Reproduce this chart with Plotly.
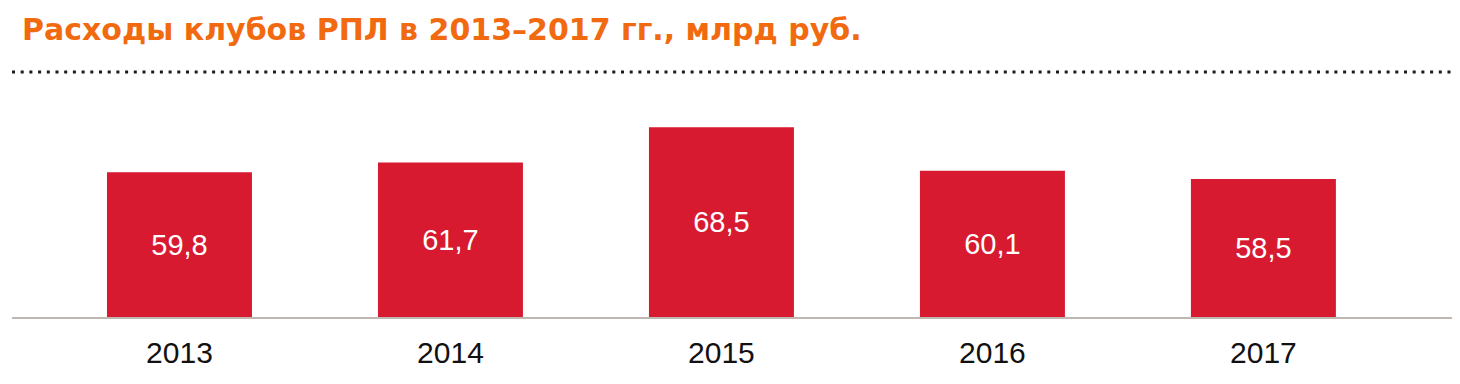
import plotly.graph_objects as go

years = ["2013", "2014", "2015", "2016", "2017"]
expenses = [59.8, 61.7, 68.5, 60.1, 58.5]
labels = ["59,8", "61,7", "68,5", "60,1", "58,5"]
title = "Расходы клубов РПЛ в 2013–2017 гг., млрд руб."

BASE = 31.8
BAR_COLOR = "#D71A30"
TITLE_COLOR = "#F26A10"

W, H = 1452, 376          # page body has an 8px margin
L, R, T, B = 4, 5, 92, 67
PLOT_H = H - T - B

fig = go.Figure()
fig.add_trace(go.Bar(
    x=list(range(len(years))),
    y=[v - BASE for v in expenses],
    base=BASE,
    text=labels,
    textposition="inside",
    insidetextanchor="middle",
    textangle=0,
    textfont=dict(family="Liberation Sans, Arial, sans-serif", size=29, color="white"),
    marker=dict(color=BAR_COLOR, line=dict(width=0)),
    width=0.535,
    hoverinfo="skip",
))

fig.update_layout(
    width=W, height=H,
    margin=dict(l=L, r=R, t=T, b=B),
    paper_bgcolor="white", plot_bgcolor="white",
    showlegend=False,
    uniformtext=dict(minsize=10, mode="show"),
    title=dict(
        text="<b>" + title + "</b>",
        xref="container", yref="container",
        x=14 / W, y=1 - 21 / H, xanchor="left", yanchor="middle",
        font=dict(family="DejaVu Sans, sans-serif", size=30, color=TITLE_COLOR),
    ),
    xaxis=dict(
        range=[-0.618, 4.707],
        tickmode="array", tickvals=list(range(len(years))), ticktext=years,
        tickfont=dict(family="Liberation Sans, Arial, sans-serif", size=30, color="#111111"),
        showgrid=False, zeroline=False,
        showline=True, linecolor="#C0B8B0", linewidth=2,
        ticks="", ticklabelstandoff=8,
    ),
    yaxis=dict(range=[BASE, BASE + PLOT_H / 5.17], visible=False, showgrid=False, zeroline=False),
    shapes=[dict(
        type="line", xref="paper", yref="paper",
        x0=0, x1=1440 / (W - L - R),
        y0=(H - B - 64) / PLOT_H, y1=(H - B - 64) / PLOT_H,
        line=dict(color="#1a1a1a", width=3, dash="3px,5.7px"),
    )],
)

fig.write_html("out.html")
